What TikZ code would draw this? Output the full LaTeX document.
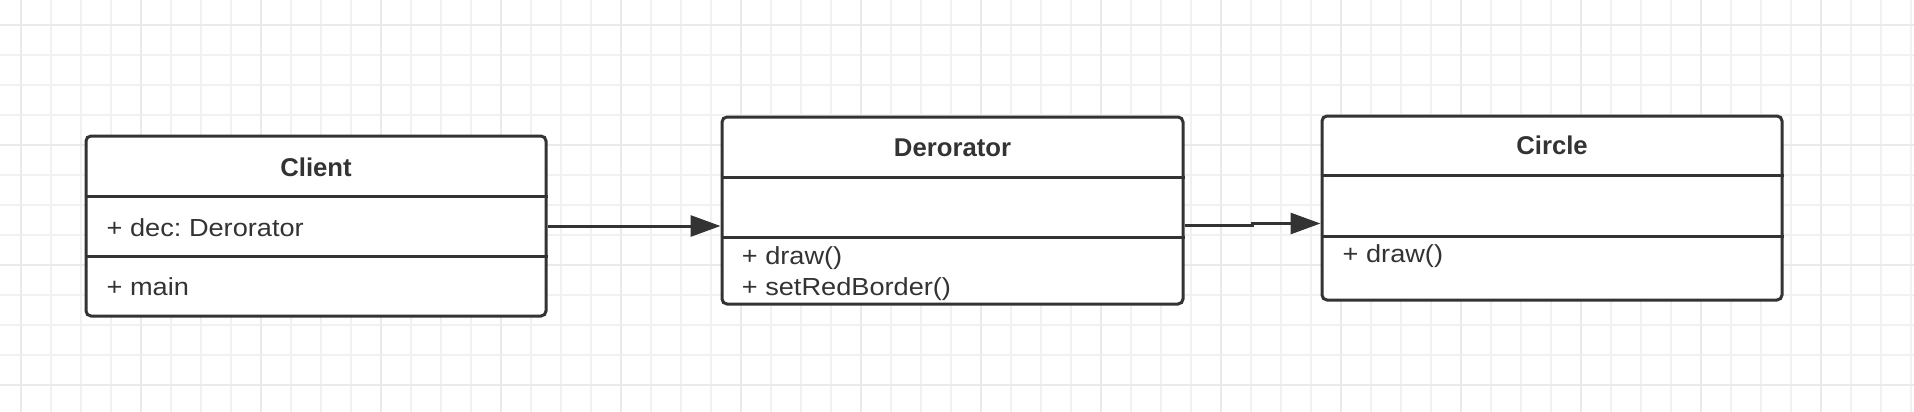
\documentclass[tikz,border=0pt]{standalone}
\usepackage{fontspec}
\setmainfont{Liberation Sans}[FakeStretch=1.1]
\newfontfamily\titlefont{Liberation Sans}
\usetikzlibrary{arrows.meta}
\definecolor{ink}{HTML}{333333}
\definecolor{gridminor}{HTML}{F1F1F1}
\definecolor{gridmajor}{HTML}{EAEAEA}
\frenchspacing
\begin{document}
\begin{tikzpicture}[x=1pt,y=-1pt,
  umlbox/.style={draw=ink, line width=3pt, rounded corners=5pt, fill=white, inner sep=0pt},
  divider/.style={draw=ink, line width=3pt},
  title/.style={anchor=base, inner sep=0pt, text=ink, font=\titlefont\bfseries\fontsize{25.7}{30}\selectfont},
  member/.style={anchor=base west, inner sep=0pt, text=ink, font=\frenchspacing\fontsize{24.7}{30}\selectfont},
  assoc/.style={draw=ink, line width=3pt, -{Triangle[length=30pt,width=21pt]}},
  gminor/.style={draw=gridminor, line width=2.4pt},
  gmajor/.style={draw=gridmajor, line width=2.6pt}]
\fill[white] (0,0) rectangle (1914,412);
\useasboundingbox (0,0) rectangle (1914,412);
% grid
\foreach \x in {21,51,...,1911} \draw[gminor] (\x,0) -- (\x,412);
\foreach \y in {25,55,...,415} \draw[gminor] (0,\y) -- (1914,\y);
\foreach \x in {21,141,...,1911} \draw[gmajor] (\x,0) -- (\x,412);
\foreach \y in {25,145,...,415} \draw[gmajor] (0,\y) -- (1914,\y);
% Client
\node[umlbox, minimum width=460pt, minimum height=180pt] (client) at (316,226) {};
\draw[divider] (client.west |- 0,196) -- (client.east |- 0,196);
\draw[divider] (client.west |- 0,256) -- (client.east |- 0,256);
\node[title] (clientT) at (316,176) {Client};
\node[member] (clientA) at (106.5,236) {+ dec: Derorator};
\node[member] (clientM) at (106.5,295.7) {+ main};
% Derorator
\node[umlbox, minimum width=461pt, minimum height=187pt] (dec) at (952.5,210.5) {};
\draw[divider] (dec.west |- 0,177.3) -- (dec.east |- 0,177.3);
\draw[divider] (dec.west |- 0,237.7) -- (dec.east |- 0,237.7);
\node[title] (decT) at (952.5,156.7) {Derorator};
\node[member] (decM1) at (741.7,264.3) {+ draw()};
\node[member] (decM2) at (741.7,295.7) {+ setRedBorder()};
% Circle
\node[umlbox, minimum width=460pt, minimum height=184pt] (circle) at (1552,208) {};
\draw[divider] (circle.west |- 0,175.7) -- (circle.east |- 0,175.7);
\draw[divider] (circle.west |- 0,236) -- (circle.east |- 0,236);
\node[title] (circleT) at (1552,154) {Circle};
\node[member] (circleM) at (1342.5,262.3) {+ draw()};
% connectors
\coordinate (j1) at (1252,225.5);
\coordinate (j2) at (1252,223.5);
\draw[assoc] (client.east) -- (client.east -| dec.west);
\draw[assoc] (dec.east |- j1) -- (j1) -- (j2) -- (circle.west |- j2);
\end{tikzpicture}
\end{document}
